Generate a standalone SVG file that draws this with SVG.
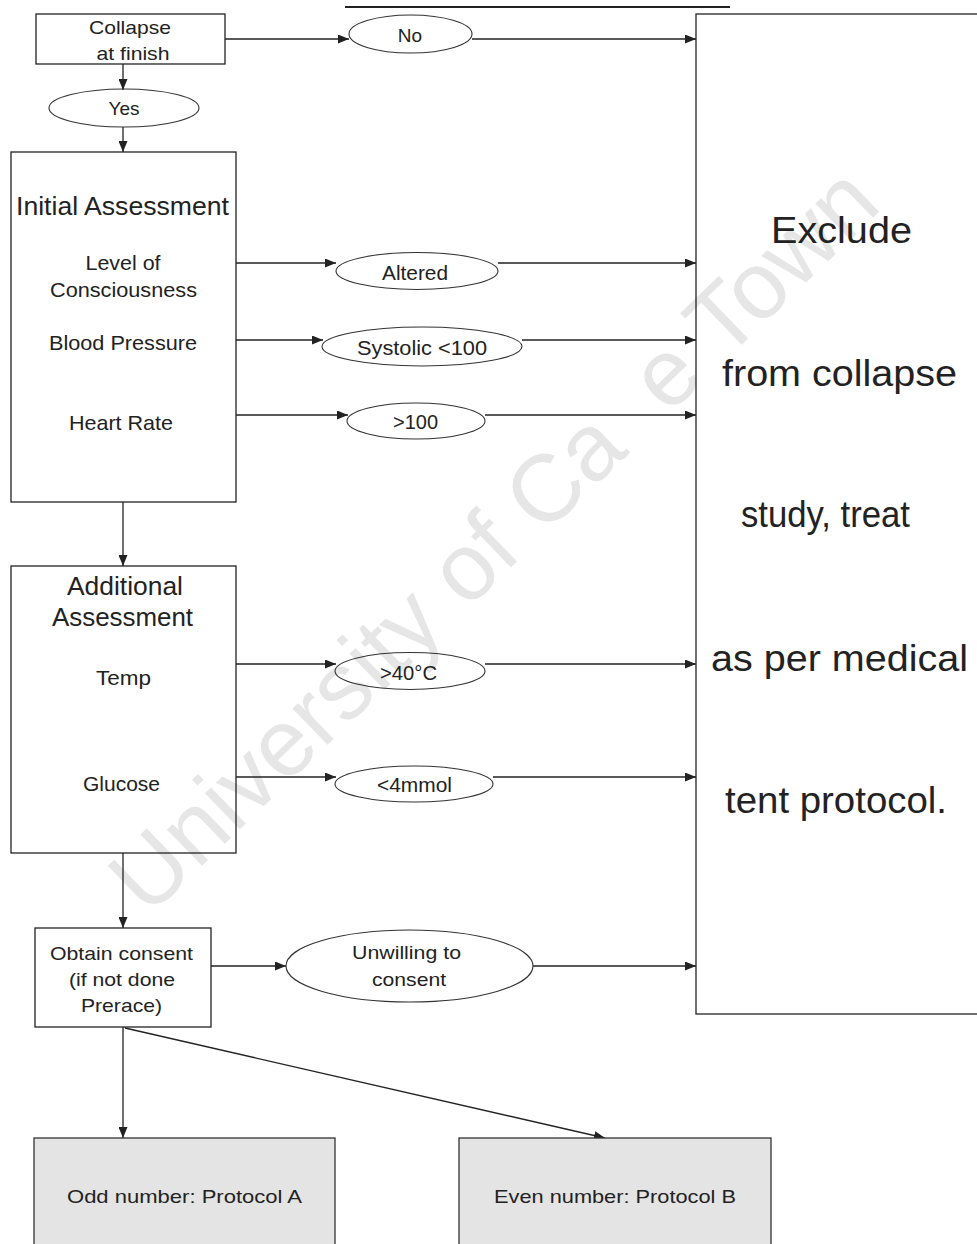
<svg xmlns="http://www.w3.org/2000/svg" width="977" height="1244" viewBox="0 0 977 1244">
<style>
.box{fill:none;stroke:#222;stroke-width:1.3}
.gbox{fill:#e4e4e4;stroke:#333;stroke-width:1.3}
.ell{fill:none;stroke:#333;stroke-width:1.1}
.t{font-family:"Liberation Sans",Arial,sans-serif;fill:#222;text-anchor:middle}
.s19{font-size:19px}
.s21{font-size:21px}
.s26{font-size:26px}
.s37{font-size:37px}
.conn{fill:none;stroke:#222;stroke-width:1.3}
.wm{font-family:"Liberation Sans",Arial,sans-serif;font-size:95px;fill:#e6e6e6}
</style>
<defs>
<marker id="ah" markerUnits="userSpaceOnUse" markerWidth="11" markerHeight="9" refX="11" refY="4.5" orient="auto">
<path d="M0,0 L11,4.5 L0,9 z" fill="#222"/>
</marker>
</defs>
<rect width="977" height="1244" fill="#fff"/>
<text class="wm" x="148" y="918" transform="rotate(-44 148 918)">University of Ca<tspan fill="none">p</tspan>e Town</text>
<line x1="345" y1="7" x2="730" y2="7" stroke="#222" stroke-width="2.2"/>

<g id="connectors">
<path class="conn" d="M225,39 H349" marker-end="url(#ah)"/>
<path class="conn" d="M472,39 H696" marker-end="url(#ah)"/>
<path class="conn" d="M123,64 V90" marker-end="url(#ah)"/>
<path class="conn" d="M123,127 V152" marker-end="url(#ah)"/>
<path class="conn" d="M236,263 H336" marker-end="url(#ah)"/>
<path class="conn" d="M498,263 H696" marker-end="url(#ah)"/>
<path class="conn" d="M236,340 H323" marker-end="url(#ah)"/>
<path class="conn" d="M522,340 H696" marker-end="url(#ah)"/>
<path class="conn" d="M236,415 H348" marker-end="url(#ah)"/>
<path class="conn" d="M485,415 H696" marker-end="url(#ah)"/>
<path class="conn" d="M123,502 V566" marker-end="url(#ah)"/>
<path class="conn" d="M236,664 H336" marker-end="url(#ah)"/>
<path class="conn" d="M485,664 H696" marker-end="url(#ah)"/>
<path class="conn" d="M236,777 H336" marker-end="url(#ah)"/>
<path class="conn" d="M493,777 H696" marker-end="url(#ah)"/>
<path class="conn" d="M123,853 V928" marker-end="url(#ah)"/>
<path class="conn" d="M211,966 H286" marker-end="url(#ah)"/>
<path class="conn" d="M533,966 H696" marker-end="url(#ah)"/>
<path class="conn" d="M123,1027 V1138" marker-end="url(#ah)"/>
<path class="conn" d="M125,1028 L605,1138" marker-end="url(#ah)"/>
</g>

<g id="collapse">
<rect class="box" x="36" y="14" width="189" height="50"/>
<text class="t s19" x="130" y="34" textLength="82" lengthAdjust="spacingAndGlyphs">Collapse</text>
<text class="t s19" x="133" y="60" textLength="73" lengthAdjust="spacingAndGlyphs">at finish</text>
</g>
<g id="no">
<ellipse class="ell" cx="410.5" cy="34" rx="61.5" ry="19"/>
<text class="t s19" x="410" y="42">No</text>
</g>
<g id="yes">
<ellipse class="ell" cx="124" cy="108" rx="75" ry="19"/>
<text class="t s19" x="124" y="115">Yes</text>
</g>
<g id="initial">
<rect class="box" x="11" y="152" width="225" height="350"/>
<text class="t s26" x="122.5" y="215" textLength="213" lengthAdjust="spacingAndGlyphs">Initial Assessment</text>
<text class="t s21" x="123" y="270" textLength="75" lengthAdjust="spacingAndGlyphs">Level of</text>
<text class="t s21" x="123.5" y="297" textLength="147" lengthAdjust="spacingAndGlyphs">Consciousness</text>
<text class="t s21" x="123" y="350" textLength="148" lengthAdjust="spacingAndGlyphs">Blood Pressure</text>
<text class="t s21" x="121" y="430" textLength="104" lengthAdjust="spacingAndGlyphs">Heart Rate</text>
</g>
<g id="altered">
<ellipse class="ell" cx="417" cy="271" rx="81" ry="18.5"/>
<text class="t s21" x="415" y="280" textLength="66" lengthAdjust="spacingAndGlyphs">Altered</text>
</g>
<g id="systolic">
<ellipse class="ell" cx="422" cy="346.5" rx="100" ry="19.5"/>
<text class="t s21" x="422" y="355" textLength="130" lengthAdjust="spacingAndGlyphs">Systolic &lt;100</text>
</g>
<g id="hr100">
<ellipse class="ell" cx="416" cy="421" rx="69" ry="18"/>
<text class="t s21" x="415.5" y="429" textLength="45" lengthAdjust="spacingAndGlyphs">&gt;100</text>
</g>
<g id="additional">
<rect class="box" x="11" y="566" width="225" height="287"/>
<text class="t s26" x="125" y="595" textLength="116" lengthAdjust="spacingAndGlyphs">Additional</text>
<text class="t s26" x="122.5" y="626" textLength="141" lengthAdjust="spacingAndGlyphs">Assessment</text>
<text class="t s21" x="123.5" y="685" textLength="55" lengthAdjust="spacingAndGlyphs">Temp</text>
<text class="t s21" x="121.5" y="791" textLength="77" lengthAdjust="spacingAndGlyphs">Glucose</text>
</g>
<g id="temp40">
<ellipse class="ell" cx="410" cy="671" rx="75" ry="18.5"/>
<text class="t s21" x="408.5" y="680" textLength="57" lengthAdjust="spacingAndGlyphs">&gt;40°C</text>
</g>
<g id="glucose4">
<ellipse class="ell" cx="414" cy="784" rx="79" ry="18"/>
<text class="t s21" x="414.5" y="792" textLength="75" lengthAdjust="spacingAndGlyphs">&lt;4mmol</text>
</g>
<g id="consent">
<rect class="box" x="35" y="928" width="176" height="99"/>
<text class="t s19" x="121.5" y="960" textLength="143" lengthAdjust="spacingAndGlyphs">Obtain consent</text>
<text class="t s19" x="122" y="986" textLength="106" lengthAdjust="spacingAndGlyphs">(if not done</text>
<text class="t s19" x="121.5" y="1012" textLength="81" lengthAdjust="spacingAndGlyphs">Prerace)</text>
</g>
<g id="unwilling">
<ellipse class="ell" cx="409.5" cy="966" rx="123.5" ry="36"/>
<text class="t s19" x="406.5" y="959" textLength="109" lengthAdjust="spacingAndGlyphs">Unwilling to</text>
<text class="t s19" x="409" y="986" textLength="74" lengthAdjust="spacingAndGlyphs">consent</text>
</g>
<g id="exclude">
<rect class="box" x="696" y="14" width="300" height="1000"/>
<text class="t s37" x="841.5" y="243" textLength="141" lengthAdjust="spacingAndGlyphs">Exclude</text>
<text class="t s37" x="839.5" y="386" textLength="235" lengthAdjust="spacingAndGlyphs">from collapse</text>
<text class="t s37" x="825.5" y="527" textLength="169" lengthAdjust="spacingAndGlyphs">study, treat</text>
<text class="t s37" x="839.5" y="671" textLength="257" lengthAdjust="spacingAndGlyphs">as per medical</text>
<text class="t s37" x="836" y="813" textLength="222" lengthAdjust="spacingAndGlyphs">tent protocol.</text>
</g>
<g id="protocolA">
<rect class="gbox" x="34" y="1138" width="301" height="120"/>
<text class="t s19" x="184.5" y="1203" textLength="235" lengthAdjust="spacingAndGlyphs">Odd number: Protocol A</text>
</g>
<g id="protocolB">
<rect class="gbox" x="459" y="1138" width="312" height="120"/>
<text class="t s19" x="615" y="1203" textLength="242" lengthAdjust="spacingAndGlyphs">Even number: Protocol B</text>
</g>
</svg>
